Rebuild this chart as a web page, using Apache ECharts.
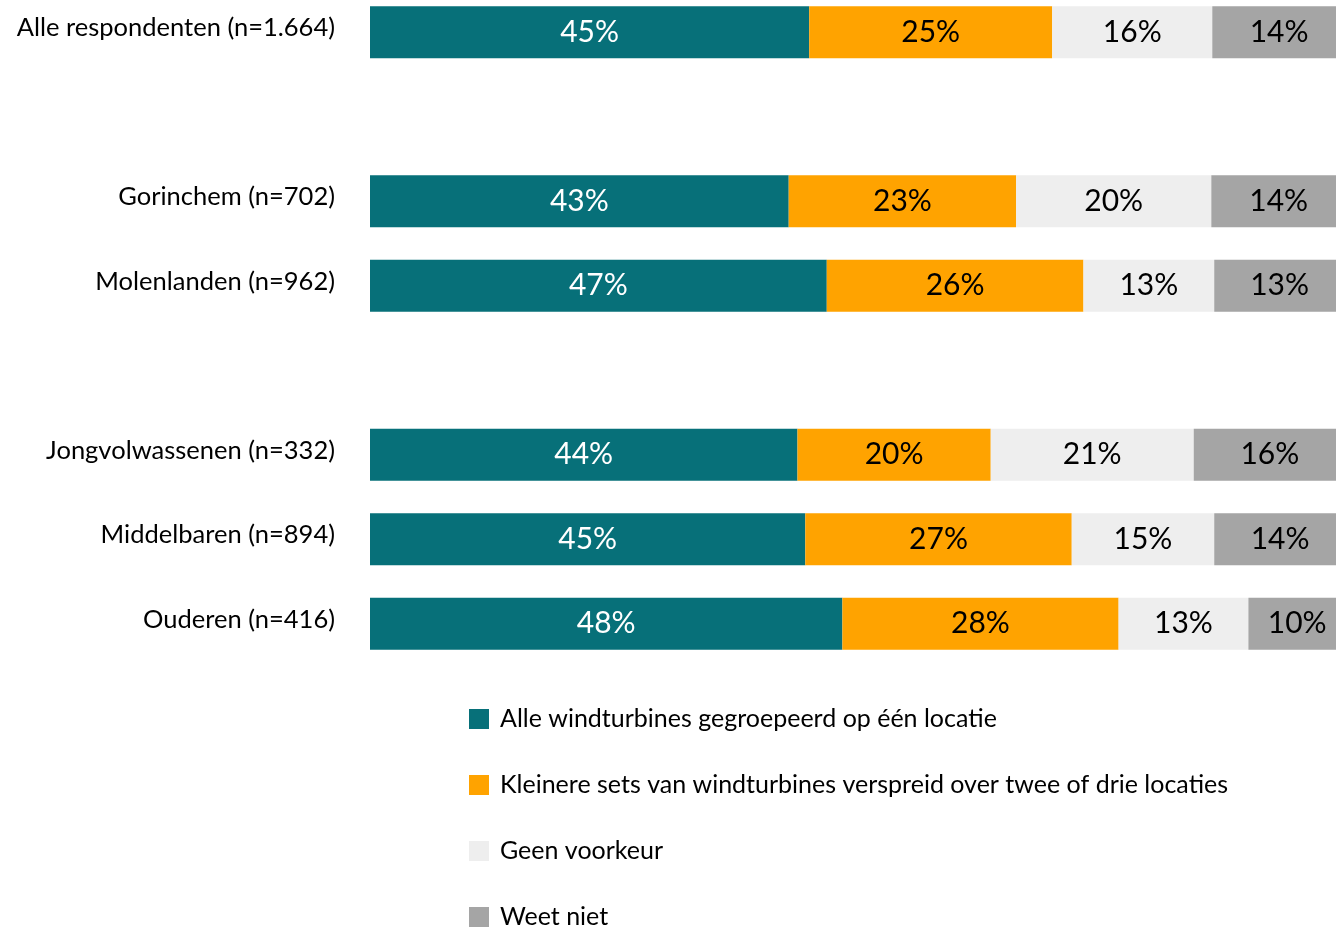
<!DOCTYPE html>
<html>
<head>
<meta charset="utf-8">
<script src="https://cdn.jsdelivr.net/npm/echarts@6/dist/echarts.min.js"></script>
<style>
html,body{margin:0;padding:0;background:#fff;overflow:hidden;width:1336px;height:929px;position:relative;}
#chart{position:absolute;left:0;top:-10px;width:1346px;height:1000px;}
</style>
</head>
<body>
<div id="chart"></div>
<script>
const categories = [
  'Alle respondenten (n=1.664)',
  ' ',
  'Gorinchem (n=702)',
  'Molenlanden (n=962)',
  '  ',
  'Jongvolwassenen (n=332)',
  'Middelbaren (n=894)',
  'Ouderen (n=416)'
];
const seriesNames = [
  'Alle windturbines gegroepeerd op één locatie',
  'Kleinere sets van windturbines verspreid over twee of drie locaties',
  'Geen voorkeur',
  'Weet niet'
];
const groepeerd   = [45.0, null, 42.9, 46.8, null, 43.8, 44.6, 48.4];
const kleinere    = [24.9, null, 23.3, 26.3, null, 19.8, 27.3, 28.3];
const geen        = [16.4, null, 20.0, 13.4, null, 20.8, 14.6, 13.3];
const weetNiet    = [13.7, null, 13.8, 13.4, null, 15.6, 13.5, 10.0];

const colors = ['#077079', '#FFA300', '#EEEEEE', '#A5A5A5'];
const labelColors = ['#ffffff', '#000000', '#000000', '#000000'];
const values = [groepeerd, kleinere, geen, weetNiet];
const FONT = 'Lato';

const chart = echarts.init(document.getElementById('chart'), null, {renderer: 'canvas'});
chart.setOption({
  animation: false,
  backgroundColor: '#ffffff',
  textStyle: {fontFamily: FONT},
  grid: {left: 370, width: 976, top: 0, height: 676, containLabel: false},
  xAxis: {
    type: 'value', min: 0, max: 100,
    show: false
  },
  yAxis: {
    type: 'category',
    data: categories,
    inverse: true,
    axisLine: {show: false},
    axisTick: {show: false},
    splitLine: {show: false},
    axisLabel: {
      margin: 35,
      color: '#000000',
      fontSize: 25.5,
      fontFamily: FONT,
      verticalAlign: 'bottom',
      lineHeight: 8
    }
  },
  legend: {
    orient: 'vertical',
    left: 469,
    top: 716.5,
    padding: 0,
    itemWidth: 20,
    itemHeight: 20,
    itemGap: 41,
    icon: 'rect',
    selectedMode: false,
    textStyle: {fontSize: 25, color: '#000000', fontFamily: FONT, padding: [0, 0, 0, 6]},
    data: seriesNames
  },
  series: seriesNames.map((name, i) => ({
    name: name,
    type: 'bar',
    stack: 'total',
    barWidth: 52,
    data: values[i],
    itemStyle: {color: colors[i]},
    label: {
      show: true,
      position: 'inside',
      color: labelColors[i],
      fontSize: 30,
      fontFamily: FONT,
      formatter: p => (p.value == null ? '' : Math.round(p.value) + '%')
    }
  }))
});
</script>
</body>
</html>
